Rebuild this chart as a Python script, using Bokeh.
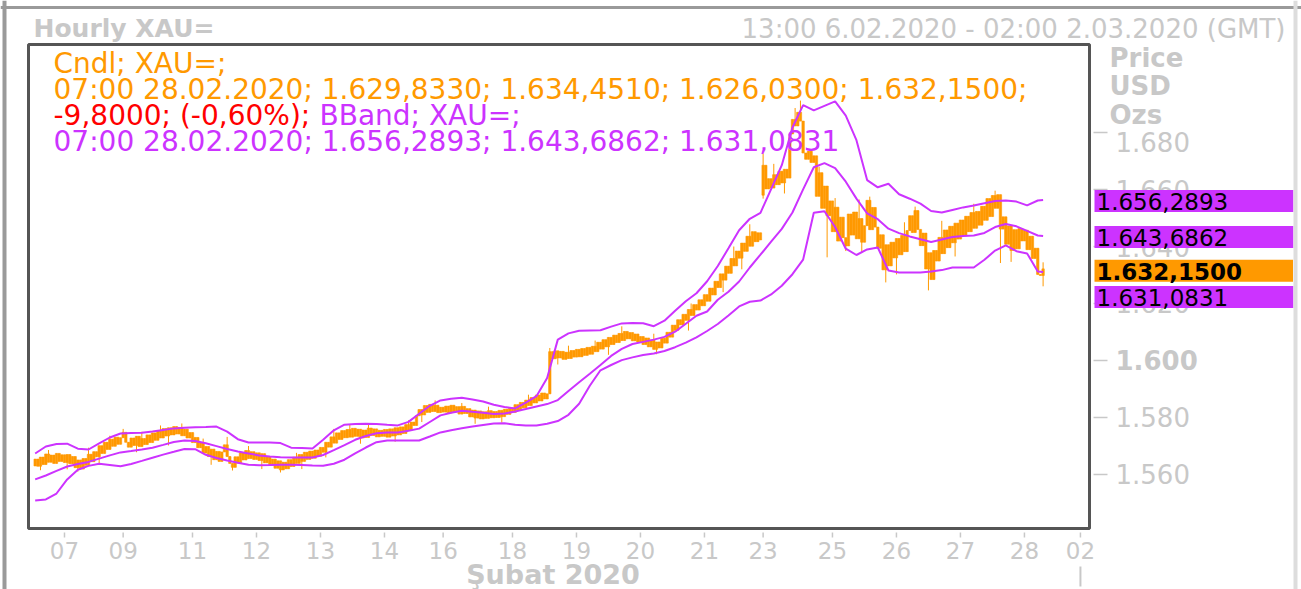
from bokeh.plotting import figure
from bokeh.models import ColumnDataSource, Label, Range1d, BoxAnnotation, Span
from bokeh.embed import file_html
from bokeh.resources import INLINE

# ---------------- data (hourly XAU= candles, bar index = trading hour) ----------------
first_open = 1563.0
gap_opens = {273: 1658.0}
feb06 = [1565.4, 1562.9, 1566.1, 1563.5, 1567.2, 1564.3, 1566.8, 1563.9, 1567.4, 1564.6, 1566.9]
feb07 = [1564.2, 1567.0, 1563.8, 1566.3, 1562.4, 1565.1, 1561.9, 1565.6, 1563.2, 1567.1, 1564.5,
         1568.0, 1566.2, 1570.1, 1567.4, 1571.3, 1568.8, 1572.4, 1569.9, 1573.1, 1570.6, 1572.9]
feb09 = [1574.8, 1571.3]
feb10 = [1569.6, 1572.8, 1570.2, 1573.4, 1569.8, 1572.6, 1570.5, 1573.9, 1571.2, 1574.6, 1572.0, 1575.3,
         1572.8, 1576.1, 1573.5, 1576.4, 1573.9, 1576.8, 1574.2, 1576.5, 1573.6, 1575.9, 1572.8, 1574.7]
feb11 = [1571.2, 1573.0, 1569.4, 1571.1, 1567.5, 1569.8, 1566.3, 1568.9, 1565.2, 1568.1, 1564.6, 1567.9,
         1570.4, 1566.3, 1563.9, 1562.5, 1566.2, 1564.0, 1567.6, 1565.1, 1568.4, 1565.6, 1568.0, 1565.3]
feb12 = [1567.6, 1564.9, 1567.3, 1564.1, 1566.2, 1563.3, 1565.4, 1562.2, 1564.8, 1561.6, 1564.3, 1562.0,
         1565.2, 1562.8, 1566.1, 1563.9, 1567.0, 1564.6, 1567.8, 1565.3, 1568.2, 1565.7, 1568.6, 1566.4]
feb13 = [1569.5, 1567.8, 1571.3, 1569.6, 1573.2, 1571.0, 1574.6, 1572.3, 1575.4, 1572.9, 1575.8, 1573.1,
         1576.2, 1573.4, 1575.9, 1572.8, 1575.6, 1573.0, 1576.3, 1573.7, 1576.0, 1573.2, 1575.5, 1573.4]
feb14 = [1575.8, 1573.1, 1576.0, 1573.5, 1576.4, 1573.9, 1576.7, 1574.4, 1577.5, 1575.6, 1578.4,
         1577.2, 1580.6, 1582.8, 1580.9, 1584.2, 1581.8, 1584.6, 1582.1, 1584.3, 1581.7, 1583.6]
feb16 = [1581.9, 1584.0]
feb17 = [1581.6, 1584.3, 1581.9, 1583.8, 1581.2, 1583.9, 1581.4, 1583.1, 1580.2, 1582.6, 1579.8, 1582.3,
         1579.5, 1582.0, 1579.7, 1582.4, 1579.9, 1582.1, 1580.0, 1582.5, 1580.3, 1582.9, 1581.1, 1583.4]
feb18 = [1581.8, 1584.5, 1582.6, 1585.3, 1583.4, 1586.1, 1584.2, 1587.0, 1585.1, 1587.9, 1585.8, 1588.6,
         1586.5, 1588.3, 1603.1, 1600.6, 1603.4, 1600.9, 1603.2, 1600.4, 1602.9, 1600.7, 1603.5, 1601.2]
feb19 = [1603.9, 1601.3, 1604.2, 1601.8, 1604.6, 1602.2, 1605.0, 1603.1, 1606.4, 1604.0, 1607.3, 1604.8,
         1608.1, 1605.6, 1608.9, 1606.3, 1609.5, 1607.0, 1610.2, 1607.6, 1609.8, 1606.9, 1609.3, 1606.5]
feb20 = [1608.4, 1605.6, 1607.9, 1604.8, 1607.2, 1603.9, 1606.5, 1604.4, 1607.8, 1606.1, 1609.9, 1608.2,
         1612.4, 1610.6, 1614.3, 1612.5, 1616.2, 1614.1, 1617.9, 1615.8, 1619.6, 1617.7, 1621.3, 1619.2]
feb21 = [1623.1, 1620.8, 1625.4, 1623.0, 1627.8, 1625.6, 1630.4, 1628.2, 1633.1, 1630.6, 1635.8,
         1633.2, 1638.4, 1635.9, 1641.2, 1638.3, 1643.6, 1640.1, 1645.2, 1641.7, 1644.8, 1642.3]
feb23 = [1668.5, 1660.2]
feb24 = [1663.8, 1660.5, 1665.2, 1661.7, 1666.4, 1662.3, 1667.1, 1664.0, 1679.5, 1684.6, 1682.3, 1687.1,
         1684.0, 1672.8, 1670.6, 1673.4, 1669.5, 1671.8, 1657.6, 1665.9, 1653.4, 1661.2, 1650.8, 1656.0]
feb25 = [1645.2, 1653.8, 1641.9, 1650.3, 1643.1, 1640.2, 1651.4, 1644.0, 1652.1, 1642.7, 1649.8, 1641.5,
         1647.3, 1656.2, 1645.9, 1653.7, 1646.8, 1639.4, 1644.1, 1631.8, 1640.6, 1633.2, 1641.5, 1636.0]
feb26 = [1642.8, 1637.1, 1643.9, 1638.2, 1645.6, 1650.8, 1644.9, 1652.6, 1646.0, 1640.3, 1644.7, 1632.1,
         1637.8, 1628.4, 1638.6, 1634.9, 1643.2, 1637.5, 1645.8, 1639.6, 1647.1, 1641.3, 1648.2, 1642.6]
feb27 = [1649.3, 1643.8, 1650.6, 1645.2, 1651.9, 1646.4, 1652.3, 1647.5, 1654.1, 1649.2, 1656.8, 1650.5,
         1657.9, 1653.4, 1658.2, 1646.1, 1650.4, 1640.8, 1647.2, 1638.6, 1645.9, 1639.2, 1646.3, 1641.95]
feb28 = [1645.7, 1638.9, 1643.6, 1635.8, 1639.4, 1630.2, 1629.833, 1632.15]

# visible wick extremes (bar index -> price)
high_marks = {5: 1568.6, 20: 1569.4, 28: 1573.6, 33: 1576.0, 40: 1575.0, 47: 1577.2, 55: 1577.9,
              63: 1572.6, 72: 1573.2, 80: 1570.0, 98: 1567.6, 112: 1576.0, 118: 1577.4, 125: 1577.9,
              140: 1579.0, 150: 1586.0, 160: 1585.1, 170: 1583.8, 185: 1588.0, 193: 1604.4,
              200: 1605.2, 210: 1607.0, 220: 1612.0, 232: 1609.4, 246: 1620.0, 262: 1640.0,
              268: 1647.8, 273: 1672.6, 277: 1669.0, 285: 1688.6, 287: 1691.2, 293: 1670.1,
              294: 1668.0, 300: 1657.0, 309: 1656.5, 313: 1657.5, 326: 1648.5, 330: 1654.0,
              340: 1649.0, 352: 1655.0, 360: 1659.6, 378: 1634.451}
low_marks = {2: 1561.5, 12: 1561.8, 16: 1561.0, 24: 1563.6, 38: 1567.8, 50: 1570.2, 66: 1563.4,
             74: 1561.4, 85: 1561.9, 92: 1560.7, 100: 1561.9, 109: 1566.0, 122: 1570.8, 135: 1571.5,
             145: 1578.4, 165: 1577.8, 175: 1578.2, 196: 1598.6, 215: 1602.0, 233: 1602.2,
             245: 1610.5, 258: 1624.0, 265: 1632.0, 273: 1656.8, 281: 1658.6, 297: 1636.2,
             304: 1638.4, 310: 1638.0, 319: 1627.4, 323: 1630.2, 335: 1624.6, 345: 1636.5,
             362: 1634.2, 366: 1634.6, 378: 1626.03}

# Bollinger band (read every 4 bars)
bb_idx = list(range(0, 377, 4)) + [378]
bb_upper = [1567.37, 1569.82, 1570.67, 1570.81, 1569.05, 1568.77, 1570.88, 1572.98, 1574.39, 1574.53,
            1574.67, 1575.05, 1575.65, 1576.18, 1576.42, 1576.60, 1576.70, 1576.81, 1575.02, 1572.39,
            1571.23, 1571.23, 1571.23, 1571.02, 1569.40, 1569.26, 1569.12, 1572.17, 1575.51, 1577.47,
            1577.68, 1577.82, 1577.75, 1577.47, 1577.23, 1578.46, 1581.33, 1584.11, 1586.00, 1586.56,
            1586.91, 1586.35, 1585.61, 1584.49, 1583.65, 1583.19, 1585.19, 1587.47, 1593.89, 1607.33,
            1609.51, 1610.46, 1610.53, 1610.60, 1611.89, 1613.02, 1613.19, 1613.05, 1612.04, 1613.97,
            1617.44, 1620.81, 1623.61, 1627.82, 1633.16, 1639.37, 1645.72, 1649.72, 1651.83, 1660.11,
            1668.53, 1681.76, 1689.61, 1687.79, 1689.37, 1690.91, 1685.90, 1677.30, 1663.30, 1660.77,
            1662.00, 1658.35, 1656.77, 1655.05, 1652.46, 1651.93, 1652.84, 1653.72, 1654.39, 1655.16,
            1655.93, 1656.14, 1655.76, 1654.42, 1656.14, 1656.2893]
bb_mid = [1558.28, 1559.65, 1561.26, 1562.81, 1563.68, 1564.42, 1565.58, 1566.70, 1567.75, 1568.25,
          1568.77, 1569.40, 1570.39, 1571.40, 1571.93, 1571.75, 1570.95, 1569.96, 1568.95, 1568.07,
          1567.40, 1566.70, 1566.35, 1566.03, 1565.96, 1565.96, 1565.96, 1566.84, 1568.53, 1570.32,
          1572.17, 1573.51, 1574.46, 1574.74, 1574.74, 1575.33, 1576.10, 1578.42, 1580.74, 1581.68,
          1582.39, 1582.00, 1581.65, 1581.26, 1581.37, 1582.11, 1582.98, 1583.89, 1584.70, 1586.11,
          1589.30, 1592.39, 1595.37, 1598.39, 1601.61, 1604.07, 1605.79, 1606.53, 1607.33, 1608.28,
          1610.11, 1612.91, 1615.72, 1617.19, 1621.33, 1624.11, 1627.72, 1632.63, 1637.12, 1641.68,
          1646.18, 1651.93, 1660.04, 1667.79, 1669.26, 1667.51, 1662.74, 1656.81, 1651.61, 1649.58,
          1646.25, 1644.70, 1643.54, 1642.53, 1641.58, 1642.46, 1643.33, 1643.68, 1643.86, 1644.74,
          1646.84, 1647.90, 1647.09, 1645.47, 1643.86, 1643.6862]
bb_lower = [1550.88, 1551.23, 1553.33, 1558.28, 1561.68, 1563.02, 1563.75, 1563.33, 1562.88, 1563.68,
            1564.77, 1565.89, 1566.98, 1567.96, 1568.95, 1568.88, 1566.91, 1565.79, 1564.88, 1564.14,
            1563.44, 1563.23, 1563.33, 1563.44, 1563.44, 1563.30, 1563.16, 1563.05, 1563.79, 1565.19,
            1567.44, 1569.47, 1571.33, 1571.93, 1571.93, 1571.93, 1571.93, 1573.33, 1574.77, 1575.54,
            1576.25, 1576.81, 1577.37, 1577.93, 1578.00, 1577.44, 1577.19, 1577.19, 1577.82, 1578.74,
            1580.95, 1584.84, 1591.12, 1596.56, 1598.42, 1600.14, 1601.09, 1601.93, 1602.49, 1603.33,
            1604.67, 1606.25, 1608.14, 1610.35, 1612.81, 1615.82, 1618.98, 1620.60, 1621.05, 1623.19,
            1626.21, 1630.28, 1635.40, 1651.83, 1652.35, 1646.84, 1639.23, 1637.02, 1638.98, 1639.65,
            1631.58, 1630.88, 1630.88, 1630.88, 1631.19, 1631.72, 1632.63, 1632.63, 1632.63, 1635.37,
            1638.56, 1640.42, 1638.35, 1637.58, 1631.26, 1631.0831]

# x-axis day ticks (bar index where the day starts) and their labels
day_ticks = [11, 33, 59, 83, 107, 131, 153, 179, 203, 227, 251, 273, 299, 323, 347, 371, 392]
day_labels = ["07", "09", "11", "12", "13", "14", "16", "18", "19", "20", "21", "23", "25", "26", "27", "28", "02"]
month_start = 392
y_ticks = [1560, 1580, 1600, 1620, 1640, 1660, 1680]
y_labels = ["1.560", "1.580", "1.600", "1.620", "1.640", "1.660", "1.680"]

last_time = "07:00 28.02.2020"
change = -9.8
change_pct = -0.60
title_text = "Hourly XAU="
range_text = "13:00 6.02.2020 - 02:00 2.03.2020 (GMT)"
month_text = "Şubat 2020"
unit_texts = ["Price", "USD", "Ozs"]

# plotting window of the chart (bars / prices)
chart_x = (-2.5, 395.4)
chart_y = (1541.05, 1710.88)

# ---------------- build ----------------
closes = (feb06 + feb07 + feb09 + feb10 + feb11 + feb12 + feb13 + feb14 + feb16 + feb17 + feb18 +
          feb19 + feb20 + feb21 + feb23 + feb24 + feb25 + feb26 + feb27 + feb28)
n = len(closes)
xs = list(range(n))
opens = [first_open] + closes[:-1]
for i, v in gap_opens.items():
    opens[i] = v
tops = [max(o, c) for o, c in zip(opens, closes)]
bots = [min(o, c) for o, c in zip(opens, closes)]
highs = [max(t, high_marks.get(i, t)) for i, t in enumerate(tops)]
lows = [min(b, low_marks.get(i, b)) for i, b in enumerate(bots)]

ORANGE = "#FF9900"
MAG = "#CC33FF"
RED = "#FF0000"
GRAY = "#C8C8C8"
FONT = "DejaVu Sans"

# pixel scale of the chart window: 1061 px wide, 484 px tall
XPX = (chart_x[1] - chart_x[0]) / 1061.0
YPX = (chart_y[1] - chart_y[0]) / 484.0


def tr(v, d=4):
    s = f"{v:,.{d}f}"
    return s.replace(",", "X").replace(".", ",").replace("X", ".")


# whole canvas is the drawing frame; the chart window sits inside it
p = figure(width=1301, height=589,
           x_range=Range1d(chart_x[0] - 28 * XPX, chart_x[1] + 212 * XPX),
           y_range=Range1d(chart_y[0] - 61 * YPX, chart_y[1] + 44 * YPX),
           output_backend="svg", toolbar_location=None,
           x_axis_location=None, y_axis_location=None,
           min_border=0, min_border_left=0, min_border_right=0, min_border_top=0, min_border_bottom=0,
           background_fill_color="white", border_fill_color="white", outline_line_color=None)
p.grid.visible = False

# page border
p.add_layout(Span(location=chart_x[0] - 24 * XPX, dimension="height", line_color="#9A9A9A", line_width=4))
p.add_layout(Span(location=chart_y[1] + 37 * YPX, dimension="width", line_color="#9A9A9A", line_width=3))
p.add_layout(Span(location=chart_x[1] + 206 * XPX, dimension="height", line_color="#DDDDDD", line_width=4))

src = ColumnDataSource(dict(x=xs, top=tops, bottom=bots, high=highs, low=lows))
p.segment(x0="x", y0="low", x1="x", y1="high", source=src, line_color=ORANGE, line_width=1)
p.vbar(x="x", width=0.9, top="top", bottom="bottom", source=src,
       fill_color=ORANGE, line_color=ORANGE, line_width=0.6)

for arr in (bb_upper, bb_mid, bb_lower):
    p.line(bb_idx, arr, line_color=MAG, line_width=2)

# chart window border
p.add_layout(BoxAnnotation(left=chart_x[0], right=chart_x[1], bottom=chart_y[0], top=chart_y[1],
                           fill_color=None, fill_alpha=0, line_color="#555555", line_alpha=1.0,
                           line_width=3))

# price axis (right): tick marks
p.segment(x0=[chart_x[1] + 4 * XPX] * len(y_ticks), x1=[chart_x[1] + 18 * XPX] * len(y_ticks),
          y0=y_ticks, y1=y_ticks, line_color=GRAY, line_width=1.5)
# time axis (bottom): tick marks
p.segment(x0=day_ticks, x1=day_ticks, y0=[chart_y[0] - 4 * YPX] * len(day_ticks),
          y1=[chart_y[0] - 9 * YPX] * len(day_ticks), line_color=GRAY, line_width=1.5)
p.segment(x0=[month_start], x1=[month_start], y0=[chart_y[0] - 38 * YPX], y1=[chart_y[0] - 58 * YPX],
          line_color=GRAY, line_width=2)


def lab(text, x, y, color, size, bold=False, align="left", baseline="middle", **kw):
    p.add_layout(Label(x=x, y=y, text=text, text_color=color, text_font=FONT,
                       text_font_size=f"{size}px", text_font_style="bold" if bold else "normal",
                       text_align=align, text_baseline=baseline, **kw))


for t, s in zip(y_ticks, y_labels):
    lab(s, chart_x[1] + 26 * XPX, t, GRAY, 26, bold=(t == 1600), y_offset=(-9 if t == 1680 else 0))
for t, s in zip(day_ticks, day_labels):
    lab(s, t, chart_y[0] - 22 * YPX, GRAY, 23, align="center")
lab(month_text, 194.2, chart_y[0] - 46 * YPX, GRAY, 27, bold=True, align="center")

# header texts
lab(title_text, chart_x[0] + 5 * XPX, chart_y[1] + 16 * YPX, GRAY, 25, bold=True)
lab(range_text, chart_x[1] + 196 * XPX, chart_y[1] + 16 * YPX, GRAY, 26, align="right")
for k, t in enumerate(unit_texts):
    lab(t, chart_x[1] + 20 * XPX, chart_y[1] - (13 + 28.5 * k) * YPX, GRAY, 26, bold=True)

# legend block (inside the chart window)
LF = 28
lx = chart_x[0] + 25 * XPX
o, h, l, c = opens[-1], highs[-1], lows[-1], closes[-1]
lab("Cndl; XAU=;", lx, chart_y[1] - 19 * YPX, ORANGE, LF)
lab(f"{last_time}; {tr(o)}; {tr(h)}; {tr(l)}; {tr(c)};", lx, chart_y[1] - 45 * YPX, ORANGE, LF)
lab(f"{tr(change)}; ({tr(change_pct, 2)}%);", lx, chart_y[1] - 71 * YPX, RED, LF)
lab("BBand; XAU=;", lx, chart_y[1] - 71 * YPX, MAG, LF, x_offset=round(9.486 * LF))
lab(f"{last_time}; {tr(bb_upper[-1])}; {tr(bb_mid[-1])}; {tr(bb_lower[-1])}", lx,
    chart_y[1] - 97 * YPX, MAG, LF)

# value boxes on the price axis
boxes = [(bb_upper[-1], MAG, False, -1), (bb_mid[-1], MAG, False, -1),
         (closes[-1], ORANGE, True, -2), (bb_lower[-1], MAG, False, -25)]
for v, col, bold, off in boxes:
    lab(tr(v), chart_x[1] + 5 * XPX, v, "black", 23, bold=bold, y_offset=off,
        background_fill_color=col, background_fill_alpha=1.0,
        padding=dict(left=2, right=(51 if bold else 65), top=3, bottom=2))

open("out.html", "w").write(file_html(p, INLINE))
